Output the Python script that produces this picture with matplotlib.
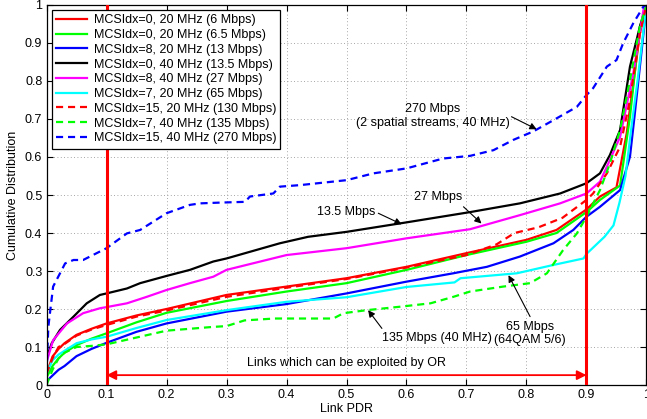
import matplotlib
matplotlib.use("Agg")
import matplotlib.pyplot as plt

plt.rcParams['font.family'] = ['Liberation Sans', 'DejaVu Sans']

tick_vals = [0, 0.1, 0.2, 0.3, 0.4, 0.5, 0.6, 0.7, 0.8, 0.9, 1.0]
tick_labels = ["0", "0.1", "0.2", "0.3", "0.4", "0.5", "0.6", "0.7", "0.8", "0.9", "1"]

labels = [
    "MCSIdx=0, 20 MHz (6 Mbps)",
    "MCSIdx=0, 20 MHz (6.5 Mbps)",
    "MCSIdx=8, 20 MHz (13 Mbps)",
    "MCSIdx=0, 40 MHz (13.5 Mbps)",
    "MCSIdx=8, 40 MHz (27 Mbps)",
    "MCSIdx=7, 20 MHz (65 Mbps)",
    "MCSIdx=15, 20 MHz (130 Mbps)",
    "MCSIdx=7, 40 MHz (135 Mbps)",
    "MCSIdx=15, 40 MHz (270 Mbps)",
]

# 6 Mbps (red solid)
x_6 = [0, 0.01, 0.02, 0.03, 0.05, 0.075, 0.1, 0.15, 0.2, 0.3, 0.4, 0.5, 0.6, 0.7, 0.8, 0.85, 0.9, 0.9225, 0.95, 0.967, 0.989, 1.0]
y_6 = [0.03, 0.075, 0.095, 0.11, 0.132, 0.148, 0.162, 0.183, 0.2, 0.237, 0.259, 0.281, 0.311, 0.347, 0.382, 0.408, 0.462, 0.496, 0.52, 0.662, 0.925, 1.0]
# 6.5 Mbps (green solid)
x_65 = [0, 0.01, 0.02, 0.03, 0.05, 0.075, 0.1, 0.15, 0.2, 0.3, 0.4, 0.5, 0.6, 0.7, 0.8, 0.85, 0.9, 0.9225, 0.956, 0.9725, 0.989, 1.0]
y_65 = [0.02, 0.05, 0.07, 0.085, 0.105, 0.122, 0.136, 0.165, 0.19, 0.221, 0.246, 0.268, 0.303, 0.342, 0.377, 0.4, 0.455, 0.487, 0.525, 0.706, 0.943, 1.0]
# 13 Mbps (blue solid)
x_13 = [0, 0.01, 0.02, 0.03, 0.05, 0.075, 0.1, 0.15, 0.2, 0.3, 0.4, 0.5, 0.6, 0.678, 0.734, 0.789, 0.845, 0.878, 0.9, 0.9225, 0.956, 0.9725, 0.98, 0.995, 1.0]
y_13 = [0.01, 0.025, 0.04, 0.05, 0.076, 0.095, 0.111, 0.14, 0.162, 0.193, 0.213, 0.241, 0.272, 0.294, 0.311, 0.338, 0.373, 0.408, 0.443, 0.469, 0.513, 0.601, 0.706, 0.925, 1.0]
# 13.5 Mbps (black solid)
x_135 = [0, 0.0087, 0.0225, 0.045, 0.067, 0.089, 0.1, 0.134, 0.156, 0.2, 0.239, 0.278, 0.3, 0.389, 0.436, 0.5, 0.6, 0.706, 0.789, 0.856, 0.9, 0.9225, 0.939, 0.956, 0.9725, 0.989, 1.0]
y_135 = [0.07, 0.11, 0.145, 0.18, 0.215, 0.237, 0.241, 0.254, 0.268, 0.287, 0.303, 0.325, 0.333, 0.373, 0.39, 0.403, 0.428, 0.455, 0.478, 0.504, 0.531, 0.557, 0.605, 0.671, 0.838, 0.943, 1.0]
# 27 Mbps (magenta solid)
x_27 = [0, 0.011, 0.034, 0.061, 0.089, 0.1, 0.134, 0.167, 0.2, 0.239, 0.278, 0.3, 0.4, 0.5, 0.6, 0.706, 0.789, 0.856, 0.9, 0.9225, 0.939, 0.956, 0.978, 0.995, 1.0]
y_27 = [0.06, 0.118, 0.162, 0.189, 0.202, 0.205, 0.215, 0.232, 0.25, 0.268, 0.285, 0.303, 0.342, 0.36, 0.386, 0.41, 0.447, 0.478, 0.504, 0.535, 0.592, 0.653, 0.82, 0.987, 1.0]
# 65 Mbps (cyan solid)
x_650 = [0, 0.01, 0.02, 0.03, 0.05, 0.075, 0.1, 0.15, 0.2, 0.3, 0.4, 0.5, 0.6, 0.68, 0.69, 0.784, 0.845, 0.895, 0.9, 0.93, 0.945, 0.955, 0.965, 0.975, 0.985, 1.0]
y_650 = [0.03, 0.065, 0.08, 0.09, 0.11, 0.12, 0.127, 0.15, 0.171, 0.197, 0.219, 0.231, 0.258, 0.27, 0.281, 0.294, 0.316, 0.333, 0.345, 0.39, 0.42, 0.48, 0.55, 0.68, 0.8, 1.0]
# 130 Mbps (red dashed)
x_130 = [0, 0.01, 0.02, 0.03, 0.05, 0.075, 0.1, 0.15, 0.2, 0.3, 0.4, 0.5, 0.6, 0.7, 0.75, 0.78, 0.82, 0.86, 0.9, 0.911, 0.934, 0.956, 0.9725, 0.989, 1.0]
y_130 = [0.03, 0.07, 0.1, 0.108, 0.13, 0.146, 0.158, 0.18, 0.196, 0.232, 0.256, 0.279, 0.309, 0.342, 0.37, 0.4, 0.415, 0.44, 0.487, 0.504, 0.557, 0.627, 0.75, 0.925, 1.0]
# 135 Mbps (green dashed)
x_1350 = [0, 0.01, 0.02, 0.03, 0.05, 0.075, 0.1, 0.15, 0.2, 0.278, 0.3, 0.33, 0.38, 0.478, 0.495, 0.534, 0.589, 0.64, 0.678, 0.706, 0.761, 0.806, 0.834, 0.861, 0.884, 0.9, 0.9225, 0.939, 0.956, 0.9725, 0.989, 1.0]
y_1350 = [0.0, 0.04, 0.07, 0.085, 0.1, 0.103, 0.107, 0.125, 0.143, 0.153, 0.155, 0.17, 0.175, 0.175, 0.189, 0.197, 0.206, 0.215, 0.232, 0.246, 0.259, 0.268, 0.294, 0.355, 0.399, 0.443, 0.513, 0.583, 0.671, 0.803, 0.943, 1.0]
# 270 Mbps (blue dashed)
x_270 = [0, 0.003, 0.011, 0.0225, 0.031, 0.045, 0.061, 0.1, 0.134, 0.156, 0.2, 0.239, 0.256, 0.289, 0.331, 0.339, 0.378, 0.389, 0.4225, 0.5, 0.545, 0.6, 0.661, 0.706, 0.745, 0.778, 0.811, 0.845, 0.884, 0.9, 0.911, 0.934, 0.95, 0.961, 0.978, 0.995, 1.0]
y_270 = [0.03, 0.153, 0.259, 0.294, 0.32, 0.329, 0.329, 0.36, 0.399, 0.408, 0.452, 0.474, 0.478, 0.48, 0.482, 0.496, 0.504, 0.522, 0.526, 0.539, 0.557, 0.570, 0.596, 0.603, 0.618, 0.645, 0.667, 0.697, 0.732, 0.763, 0.781, 0.838, 0.855, 0.899, 0.952, 0.996, 1.0]

series = [
    (x_6, y_6, (1, 0, 0), '-'),
    (x_65, y_65, (0, 1, 0), '-'),
    (x_13, y_13, (0, 0, 1), '-'),
    (x_135, y_135, (0, 0, 0), '-'),
    (x_27, y_27, (1, 0, 1), '-'),
    (x_650, y_650, (0, 1, 1), '-'),
    (x_130, y_130, (1, 0, 0), '--'),
    (x_1350, y_1350, (0, 1, 0), '--'),
    (x_270, y_270, (0, 0, 1), '--'),
]

or_range = [0.1, 0.9]

fig = plt.figure(figsize=(6.47, 4.19), dpi=100)
ax = fig.add_axes([0.0719, 0.0811, 0.9273, 0.907])

for (xs, ys, c, ls), lab in zip(series, labels):
    if ls == '--':
        ax.plot(xs, ys, color=c, lw=1.6, dashes=(3.2, 2.2), label=lab)
    else:
        ax.plot(xs, ys, color=c, lw=1.6, label=lab)

for xv in or_range:
    ax.plot([xv, xv], [0, 1], color=(1, 0, 0), lw=2.2, zorder=3)

ax.annotate("", xy=(or_range[0], 0.026), xytext=(or_range[1], 0.026),
            arrowprops=dict(arrowstyle='<|-|>', color=(1, 0, 0), lw=1.3,
                            mutation_scale=14, shrinkA=0, shrinkB=0))
ax.text(0.5, 0.058, "Links which can be exploited by OR", ha='center', va='center', fontsize=9)

arrow_kw = dict(arrowstyle='-|>', color='black', lw=0.8, mutation_scale=10, shrinkA=0, shrinkB=0)
ax.annotate("", xy=(0.817, 0.673), xytext=(0.775, 0.706), arrowprops=arrow_kw)
ax.text(0.644, 0.708, "270 Mbps\n(2 spatial streams, 40 MHz)", ha='center', va='center', fontsize=9, linespacing=1.25)
ax.annotate("", xy=(0.725, 0.425), xytext=(0.695, 0.469), arrowprops=arrow_kw)
ax.text(0.653, 0.496, "27 Mbps", ha='center', va='center', fontsize=9)
ax.annotate("", xy=(0.592, 0.423), xytext=(0.553, 0.452), arrowprops=arrow_kw)
ax.text(0.5, 0.455, "13.5 Mbps", ha='center', va='center', fontsize=9)
ax.annotate("", xy=(0.536, 0.197), xytext=(0.559, 0.149), arrowprops=arrow_kw)
ax.text(0.65, 0.123, "135 Mbps (40 MHz)", ha='center', va='center', fontsize=9)
ax.annotate("", xy=(0.77, 0.289), xytext=(0.806, 0.18), arrowprops=arrow_kw)
ax.text(0.806, 0.136, "65 Mbps\n(64QAM 5/6)", ha='center', va='center', fontsize=9, linespacing=1.15)

ax.set_xlim(0, 1)
ax.set_ylim(0, 1)
ax.set_xticks(tick_vals)
ax.set_xticklabels(tick_labels)
ax.set_yticks(tick_vals)
ax.set_yticklabels(tick_labels)
ax.tick_params(direction='in', top=True, right=True, labelsize=9, length=4, pad=3)
ax.grid(True, linestyle=(0, (1, 3)), color='#888888', lw=0.6)
for s in ax.spines.values():
    s.set_linewidth(0.9)
ax.set_xlabel("Link PDR", fontsize=9, labelpad=1)
ax.set_ylabel("Cumulative Distribution", fontsize=9, labelpad=4)

leg = ax.legend(loc='upper left', bbox_to_anchor=(0.0087, 0.987), fontsize=9,
                frameon=True, fancybox=False, edgecolor='black', framealpha=1,
                labelspacing=0.22, handlelength=2.5, handletextpad=0.5,
                borderpad=0.35, borderaxespad=0)
leg.get_frame().set_linewidth(0.9)
leg.set_zorder(10)

fig.savefig("out.png", dpi=100)
